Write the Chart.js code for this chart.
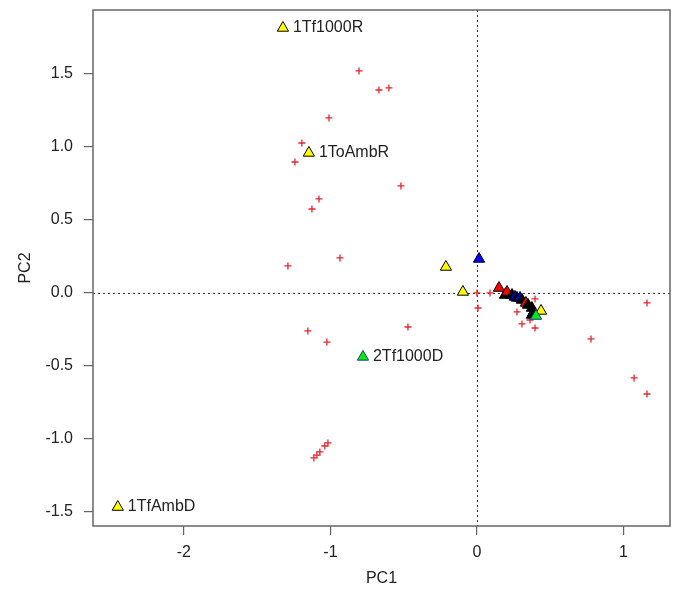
<!DOCTYPE html>
<html>
<head>
<meta charset="utf-8">
<script src="https://cdn.jsdelivr.net/npm/chart.js@4.4.1/dist/chart.umd.min.js"></script>
<style>
body { margin: 0; background: #fff; }
#wrap { width: 675px; height: 589px; }
</style>
</head>
<body>
<div id="wrap"><canvas id="pca" width="675" height="589"></canvas></div>
<script>
// sample scores (triangles), group = treatment group
const sampleX = [-0.212, -0.096, 0.014, -1.324, -1.147, -0.778, -2.451,
    0.150, 0.191, 0.205, 0.239, 0.259, 0.273, 0.294, 0.307, 0.334,
    0.348, 0.375, 0.382, 0.375, 0.437, 0.403];
const sampleY = [0.178, 0.007, 0.233, 1.815, 0.959, -0.438, -1.466,
    0.034, -0.014, 0.007, -0.014, -0.027, -0.034, -0.034, -0.048, -0.068,
    -0.082, -0.103, -0.137, -0.151, -0.123, -0.158];
const sampleGroup = [1, 1, 2, 1, 1, 5, 1,
    3, 4, 3, 4, 2, 4, 2, 4, 3,
    4, 4, 4, 4, 1, 5];
const sampleLabel = ['', '', '', '1Tf1000R', '1ToAmbR', '2Tf1000D', '1TfAmbD',
    '', '', '', '', '', '', '', '', '',
    '', '', '', '', '', ''];

// variable loadings (red crosses)
const loadX = [-0.805, -0.669, -0.601, -1.010, -1.195, -1.242, -0.519, -1.078, -1.126,
    -1.290, -0.935, -0.471, -1.154, -1.024,
    -1.017, -1.038, -1.072, -1.092, -1.113,
    0.000, 0.089, 0.007, 0.396, 0.273, 0.362, 0.307, 0.396,
    1.160, 0.778, 1.072, 1.160];
const loadY = [1.521, 1.390, 1.404, 1.199, 1.027, 0.897, 0.733, 0.644, 0.575,
    0.185, 0.240, -0.233, -0.260, -0.336,
    -1.027, -1.048, -1.089, -1.110, -1.130,
    0.000, 0.000, -0.103, -0.041, -0.130, -0.185, -0.212, -0.240,
    -0.068, -0.315, -0.582, -0.692];

const xTicks = [-2, -1, 0, 1];
const yTicks = [-1.5, -1.0, -0.5, 0.0, 0.5, 1.0, 1.5];

const groupFill = { 1: '#ffff00', 2: '#0000ff', 3: '#ff0000', 4: '#000000', 5: '#00ee00' };
const groupEdge = { 1: '#000000', 2: '#000000', 3: '#000000', 4: '#000000', 5: '#1c3aa0' };
const FONT = '"Liberation Sans", Arial, sans-serif';
const INK = '#222';
const FRAME = '#666';

const pcaPlugin = {
    id: 'pcaExtras',
    beforeDatasetsDraw(chart) {
        const { ctx, chartArea: a, scales: { x, y } } = chart;
        const px = Math.round(x.getPixelForValue(0)) + 0.5;
        const py = Math.round(y.getPixelForValue(0)) + 0.5;
        ctx.save();
        ctx.strokeStyle = '#333';
        ctx.lineWidth = 1;
        ctx.setLineDash([2, 3]);
        ctx.beginPath();
        ctx.moveTo(px, a.top);
        ctx.lineTo(px, a.bottom);
        ctx.moveTo(a.left, py);
        ctx.lineTo(a.right, py);
        ctx.stroke();
        ctx.restore();
    },
    afterDatasetsDraw(chart) {
        const { ctx, scales: { x, y } } = chart;
        ctx.save();
        ctx.font = '16px ' + FONT;
        ctx.fillStyle = INK;
        ctx.textBaseline = 'middle';
        ctx.textAlign = 'left';
        sampleLabel.forEach((lab, i) => {
            if (!lab) return;
            ctx.fillText(lab, x.getPixelForValue(sampleX[i]) + 10, y.getPixelForValue(sampleY[i]));
        });
        ctx.restore();
    },
    afterDraw(chart) {
        const { ctx, chartArea: a } = chart;
        ctx.save();
        ctx.strokeStyle = FRAME;
        ctx.lineWidth = 1.5;
        ctx.strokeRect(a.left, a.top, a.right - a.left, a.bottom - a.top);
        ctx.restore();
    }
};

const samplePoints = sampleX.map((v, i) => ({ x: v, y: sampleY[i] }));
const loadPoints = loadX.map((v, i) => ({ x: v, y: loadY[i] }));

new Chart(document.getElementById('pca'), {
    type: 'scatter',
    data: {
        datasets: [
            {
                label: 'samples',
                data: samplePoints,
                pointStyle: 'triangle',
                pointRadius: 6.5,
                pointBorderWidth: 1,
                backgroundColor: sampleGroup.map(g => groupFill[g]),
                borderColor: sampleGroup.map(g => groupEdge[g])
            },
            {
                label: 'loadings',
                data: loadPoints,
                pointStyle: 'cross',
                pointRadius: 3.5,
                pointBorderWidth: 1.3,
                borderColor: '#e8262e',
                backgroundColor: '#e8262e'
            }
        ]
    },
    options: {
        responsive: false,
        animation: false,
        layout: { autoPadding: false, padding: { top: 10, right: 5, left: 0, bottom: 0 } },
        plugins: { legend: { display: false }, tooltip: { enabled: false } },
        scales: {
            x: {
                type: 'linear',
                min: -2.62,
                max: 1.317,
                afterFit(scale) {
                    scale.height = 63;
                    scale.paddingLeft = 0;
                    scale.paddingRight = 0;
                },
                afterBuildTicks(scale) { scale.ticks = xTicks.map(v => ({ value: v })); },
                grid: { drawOnChartArea: false, drawTicks: true, tickLength: 9, color: FRAME, lineWidth: 1.2 },
                border: { display: false },
                ticks: { color: INK, padding: 8, font: { family: FONT, size: 16 }, callback: v => String(v) },
                title: { display: true, text: 'PC1', color: INK, font: { family: FONT, size: 16 }, padding: { top: 0, bottom: 1 } }
            },
            y: {
                type: 'linear',
                min: -1.596,
                max: 1.938,
                afterFit(scale) {
                    scale.width = 93;
                    scale.paddingTop = 0;
                    scale.paddingBottom = 0;
                },
                afterBuildTicks(scale) { scale.ticks = yTicks.map(v => ({ value: v })); },
                grid: { drawOnChartArea: false, drawTicks: true, tickLength: 9, color: FRAME, lineWidth: 1.2 },
                border: { display: false },
                ticks: { color: INK, padding: 11, font: { family: FONT, size: 16 }, callback: v => v.toFixed(1) },
                title: { display: true, text: 'PC2', color: INK, font: { family: FONT, size: 16 }, padding: { top: 16, bottom: 0 } }
            }
        }
    },
    plugins: [pcaPlugin]
});
</script>
</body>
</html>
